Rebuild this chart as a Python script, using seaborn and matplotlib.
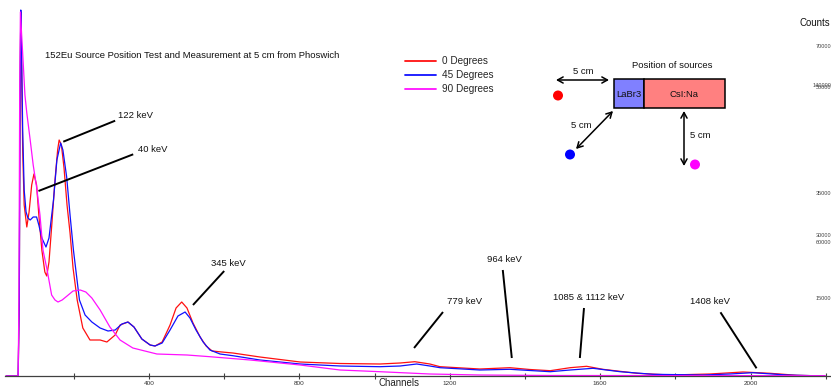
import numpy as np
import pandas as pd
import matplotlib
matplotlib.use("Agg")
import matplotlib.pyplot as plt
from matplotlib.lines import Line2D
from matplotlib.patches import Rectangle, Circle, FancyArrowPatch
import seaborn as sns

# ---- 152Eu spectra (channel, counts) for the three source angles ----
ch_0deg = [20, 52, 55, 57, 59, 61, 64, 68, 75, 81, 88, 94, 101, 107, 115, 123, 128,
           134, 142, 150, 157, 161, 167, 174, 182, 190, 198, 209, 224, 243, 270, 288,
           310, 323, 344, 360, 381, 403, 416, 435, 456, 472, 487, 501, 517, 536, 552,
           568, 594, 623, 695, 802, 908, 1014, 1068, 1107, 1147, 1174, 1280, 1360,
           1413, 1467, 1520, 1564, 1607, 1698, 1786, 1892, 1980, 2052, 2123, 2198]
counts_0deg = [0, 0, 15200, 55200, 72800, 63200, 45200, 34200, 29800, 32800, 38200,
               40400, 38200, 32200, 25200, 20800, 20000, 22800, 30800, 39200, 45200,
               47200, 46200, 41600, 34200, 28600, 21600, 15200, 9600, 7200, 7200, 6800,
               8200, 10200, 10800, 9800, 7400, 6200, 6000, 6800, 10200, 13600, 14800,
               13600, 10600, 7800, 6000, 5000, 4800, 4600, 3800, 2800, 2500, 2400, 2600,
               2860, 2400, 1860, 1400, 1660, 1300, 1060, 1660, 1940, 1340, 540, 200,
               400, 800, 540, 140, 0]

ch_45deg = [20, 52, 55, 57, 59, 61, 64, 68, 73, 78, 84, 92, 101, 107, 115, 126, 134,
            146, 155, 165, 171, 181, 190, 199, 215, 230, 248, 270, 291, 310, 328, 344,
            360, 381, 403, 416, 435, 456, 477, 496, 509, 525, 544, 562, 589, 623, 695,
            802, 908, 1014, 1068, 1112, 1147, 1174, 1280, 1360, 1413, 1467, 1520,
            1581, 1653, 1740, 1873, 1945, 2006, 2097, 2198]
counts_45deg = [0, 0, 15200, 55200, 73200, 65200, 49200, 37200, 32800, 31600, 31200,
                31800, 31800, 30200, 27600, 25800, 27600, 35200, 43200, 46600, 45200,
                39800, 32200, 25200, 15200, 12200, 10800, 9600, 9000, 9200, 10400,
                10800, 9800, 7400, 6200, 6000, 6600, 9200, 12000, 12800, 11600, 9200,
                6800, 5200, 4400, 4060, 3200, 2400, 2000, 1860, 2000, 2400, 2000, 1660,
                1200, 1340, 1100, 860, 1200, 1540, 860, 340, 200, 400, 660, 200, 0]

ch_90deg = [20, 52, 54, 56, 58, 62, 66, 70, 75, 84, 92, 101, 110, 118, 129, 141, 150,
            158, 169, 182, 198, 217, 232, 248, 270, 296, 323, 357, 421, 501, 562, 669,
            802, 908, 1014, 1147, 1280, 1467, 2198]
counts_90deg = [0, 0, 15200, 55200, 72800, 67200, 61800, 56200, 52600, 47200, 42200,
                37800, 32200, 25200, 21200, 16200, 15200, 14800, 15200, 16000, 17000,
                17200, 16800, 15600, 13200, 9800, 7200, 5600, 4400, 4200, 3860, 3200,
                2200, 1200, 860, 400, 200, 100, 60]

series_names = ["0 Degrees", "45 Degrees", "90 Degrees"]
series_colors = ["#ff1010", "#1010ff", "#ff10ff"]

# peak labels with their text anchor and the leader line to the peak
peak_labels = ["122 keV", "40 keV", "345 keV", "779 keV", "964 keV",
               "1085 & 1112 keV", "1408 keV"]

frames = []
for name, ch, ct in zip(series_names,
                        [ch_0deg, ch_45deg, ch_90deg],
                        [counts_0deg, counts_45deg, counts_90deg]):
    frames.append(pd.DataFrame({"Channel": ch, "Counts": ct, "Source": name}))
spectra = pd.concat(frames, ignore_index=True)

sns.set_theme(style="white")
plt.rcParams["font.family"] = ["Liberation Sans", "DejaVu Sans"]

W, H = 831, 389
fig = plt.figure(figsize=(W / 100, H / 100), dpi=100)
ax = fig.add_axes([5 / W, (H - 376) / H, (W - 5) / W, 376 / H])

sns.lineplot(data=spectra, x="Channel", y="Counts", hue="Source",
             hue_order=series_names, palette=series_colors, linewidth=0.9,
             sort=False, estimator=None, legend=False, ax=ax)

ax.set_xlim(17, 2214)
ax.set_ylim(0, 75200)
for side in ["left", "top", "right"]:
    ax.spines[side].set_visible(False)
ax.spines["bottom"].set_color("#404040")
ax.spines["bottom"].set_linewidth(0.9)
ax.set_yticks([])
ax.set_xticks([400, 800, 1200, 1600, 2000])
ax.set_xticks([200, 600, 1000, 1400, 1800, 2200], minor=True)
ax.tick_params(axis="x", which="both", direction="inout", length=5, width=0.8,
               color="#404040", labelsize=4.6, labelcolor="#333333", pad=1,
               bottom=True)
ax.set_xlabel("")
ax.set_ylabel("")
ax.text(0.477, -0.019, "Channels", transform=ax.transAxes, ha="center",
        va="center", fontsize=7.0, color="#222222", clip_on=False)

# legend
handles = [Line2D([], [], color=c, lw=1.3) for c in series_colors]
ax.legend(handles, series_names, loc="upper left", frameon=False,
          bbox_to_anchor=(405 / W, 1 - 56 / H), bbox_transform=fig.transFigure,
          borderpad=0, borderaxespad=0, fontsize=7.2, handlelength=3.1,
          handletextpad=0.6, labelspacing=0.42)

# title
ax.text(123, 64000, "152Eu Source Position Test and Measurement at 5 cm from Phoswich",
        fontsize=6.8, color="#111111", va="center", ha="left")

# peak annotations
label_pos = [(318, 52000), (371, 45200), (565, 22600), (1193, 15000),
             (1299, 23400), (1474, 15600), (1839, 14800)]
line_start = [(310, 51060), (358, 44340), (600, 21000), (1182, 12800),
              (1341, 21200), (1557, 13600), (1920, 12740)]
line_end = [(172, 46860), (106, 37000), (517, 14200), (1105, 5600),
            (1365, 3600), (1546, 3600), (2016, 1540)]
for txt, lp, ls, le in zip(peak_labels, label_pos, line_start, line_end):
    ax.plot([ls[0], le[0]], [ls[1], le[1]], color="black", lw=1.4,
            solid_capstyle="butt")
    ax.text(lp[0], lp[1], txt, fontsize=6.8, color="#111111", ha="left",
            va="center")

# overlay in pixel units for the source-position sketch and side labels
ov = fig.add_axes([0, 0, 1, 1], facecolor="none")
ov.set_xlim(0, W)
ov.set_ylim(H, 0)
ov.axis("off")

ov.text(672, 65, "Position of sources", fontsize=6.8, ha="center", va="center",
        color="#111111")
ov.add_patch(Rectangle((614, 78.5), 30, 29, facecolor="#8080ff",
                       edgecolor="black", lw=1.1))
ov.add_patch(Rectangle((644, 78.5), 81, 29, facecolor="#ff8080",
                       edgecolor="black", lw=1.1))
ov.text(629, 94, "LaBr3", fontsize=6.8, ha="center", va="center", color="#111111")
ov.text(684, 94, "CsI:Na", fontsize=6.8, ha="center", va="center", color="#111111")

arrow_kw = dict(arrowstyle="<->,head_length=4,head_width=2.2", color="black",
                lw=1.1, shrinkA=0, shrinkB=0, mutation_scale=1)
ov.add_patch(FancyArrowPatch((556, 80), (609, 80), **arrow_kw))
ov.add_patch(FancyArrowPatch((613, 111), (576, 149), **arrow_kw))
ov.add_patch(FancyArrowPatch((684, 111), (684, 166), **arrow_kw))
ov.text(583, 71, "5 cm", fontsize=6.8, ha="center", va="center", color="#111111")
ov.text(581, 125, "5 cm", fontsize=6.8, ha="center", va="center", color="#111111")
ov.text(700, 135, "5 cm", fontsize=6.8, ha="center", va="center", color="#111111")
ov.add_patch(Circle((558, 95.5), 5, color="#ff0000", lw=0))
ov.add_patch(Circle((570, 154.5), 5, color="#0000ff", lw=0))
ov.add_patch(Circle((695, 164.5), 5, color="#ff00ff", lw=0))

ov.text(830, 23, "Counts", fontsize=6.9, ha="right", va="center", color="#111111")
for txt, yy in [("70000", 46), ("140000", 85), ("50000", 87), ("35000", 193),
                ("30000", 235), ("60000", 242), ("15000", 298)]:
    ov.text(831, yy, txt, fontsize=4.0, ha="right", va="center", color="#444444")

fig.savefig("out.png", dpi=100)
